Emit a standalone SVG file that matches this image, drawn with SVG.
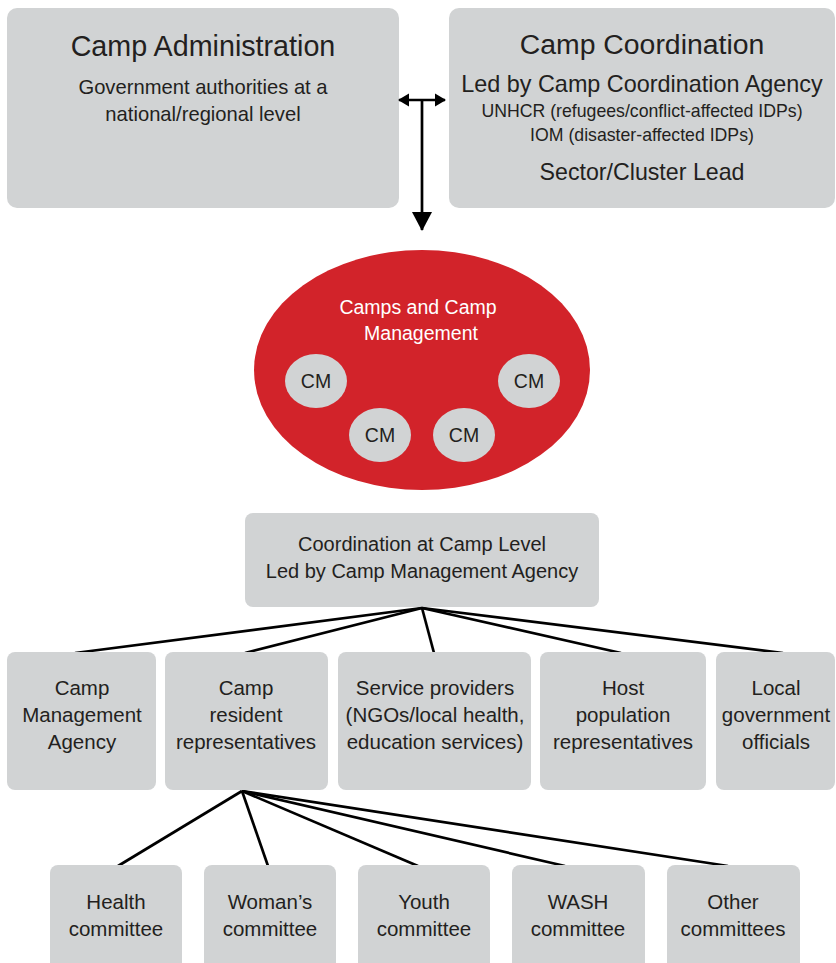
<svg xmlns="http://www.w3.org/2000/svg" width="836" height="963" viewBox="0 0 836 963">
<style>
.box{fill:#d1d3d4}
.t{font-family:"Liberation Sans",Arial,sans-serif;fill:#231f20;text-anchor:middle}
.w{fill:#ffffff}
.ln{stroke:#000;stroke-width:2.7;fill:none}
</style>
<defs>
<marker id="ah" markerWidth="12" markerHeight="14" refX="10" refY="7" orient="auto-start-reverse" markerUnits="userSpaceOnUse">
<path d="M0,0.5 L11,7 L0,13.5 z" fill="#000"/>
</marker>
<marker id="ahBig" markerWidth="20" markerHeight="22" refX="18" refY="10.5" orient="auto" markerUnits="userSpaceOnUse">
<path d="M0,0.5 L19,10.5 L0,20.5 z" fill="#000"/>
</marker>
</defs>
<rect width="836" height="963" fill="#fff"/>

<g id="camp-administration">
<rect class="box" x="7" y="8" width="392" height="200" rx="10"/>
<text class="t" x="203" y="56" font-size="28.7">Camp Administration</text>
<text class="t" x="203" y="94" font-size="20.2">Government authorities at a</text>
<text class="t" x="203" y="121" font-size="20.2">national/regional level</text>
</g>

<g id="camp-coordination">
<rect class="box" x="449" y="8" width="386" height="200" rx="10"/>
<text class="t" x="642" y="54" font-size="28.4">Camp Coordination</text>
<text class="t" x="642" y="92" font-size="23.4">Led by Camp Coordination Agency</text>
<text class="t" x="642" y="117" font-size="17.7">UNHCR (refugees/conflict-affected IDPs)</text>
<text class="t" x="642" y="141" font-size="17.7">IOM (disaster-affected IDPs)</text>
<text class="t" x="642" y="180" font-size="23.2">Sector/Cluster Lead</text>
</g>

<g id="camps">
<ellipse cx="422" cy="370" rx="168" ry="120" fill="#d2232a"/>
<text class="t w" x="418" y="314" font-size="19.5">Camps and Camp</text>
<text class="t w" x="421" y="340" font-size="19.5">Management</text>
</g>
<g id="cm1"><ellipse class="box" cx="316" cy="381" rx="31" ry="27"/><text class="t" x="316" y="388" font-size="19.5">CM</text></g>
<g id="cm2"><ellipse class="box" cx="380" cy="435" rx="31" ry="27"/><text class="t" x="380" y="442" font-size="19.5">CM</text></g>
<g id="cm3"><ellipse class="box" cx="464" cy="435" rx="31" ry="27"/><text class="t" x="464" y="442" font-size="19.5">CM</text></g>
<g id="cm4"><ellipse class="box" cx="529" cy="381" rx="31" ry="27"/><text class="t" x="529" y="388" font-size="19.5">CM</text></g>

<g id="coordination-camp-level">
<rect class="box" x="245" y="513" width="354" height="94" rx="8"/>
<text class="t" x="422" y="551" font-size="20">Coordination at Camp Level</text>
<text class="t" x="422" y="578" font-size="20">Led by Camp Management Agency</text>
</g>

<g id="connectors">
<line class="ln" x1="399" y1="100" x2="445" y2="100" marker-start="url(#ah)" marker-end="url(#ah)"/>
<line class="ln" x1="422" y1="100" x2="422" y2="230" marker-end="url(#ahBig)"/>
<line class="ln" x1="422" y1="608" x2="75" y2="653"/>
<line class="ln" x1="422" y1="608" x2="245" y2="653"/>
<line class="ln" x1="422" y1="608" x2="434" y2="653"/>
<line class="ln" x1="422" y1="608" x2="621" y2="653"/>
<line class="ln" x1="422" y1="608" x2="783" y2="653"/>
<line class="ln" x1="242" y1="791" x2="118" y2="866"/>
<line class="ln" x1="242" y1="791" x2="268" y2="866"/>
<line class="ln" x1="242" y1="791" x2="418" y2="866"/>
<line class="ln" x1="242" y1="791" x2="565" y2="866"/>
<line class="ln" x1="242" y1="791" x2="728" y2="866"/>
</g>

<g id="camp-management-agency">
<rect class="box" x="7" y="652" width="149" height="138" rx="8"/>
<text class="t" x="82" y="695" font-size="20.5">Camp</text>
<text class="t" x="82" y="722" font-size="20.5">Management</text>
<text class="t" x="82" y="749" font-size="20.5">Agency</text>
</g>
<g id="camp-resident-representatives">
<rect class="box" x="165" y="652" width="163" height="138" rx="8"/>
<text class="t" x="246" y="695" font-size="20.5">Camp</text>
<text class="t" x="246" y="722" font-size="20.5">resident</text>
<text class="t" x="246" y="749" font-size="20.5">representatives</text>
</g>
<g id="service-providers">
<rect class="box" x="338" y="652" width="193" height="138" rx="8"/>
<text class="t" x="435" y="695" font-size="20.5">Service providers</text>
<text class="t" x="435" y="722" font-size="20.5">(NGOs/local health,</text>
<text class="t" x="435" y="749" font-size="20.5">education services)</text>
</g>
<g id="host-population">
<rect class="box" x="540" y="652" width="166" height="138" rx="8"/>
<text class="t" x="623" y="695" font-size="20.5">Host</text>
<text class="t" x="623" y="722" font-size="20.5">population</text>
<text class="t" x="623" y="749" font-size="20.5">representatives</text>
</g>
<g id="local-government">
<rect class="box" x="716" y="652" width="119" height="138" rx="8"/>
<text class="t" x="776" y="695" font-size="20.5">Local</text>
<text class="t" x="776" y="722" font-size="20.5">government</text>
<text class="t" x="776" y="749" font-size="20.5">officials</text>
</g>

<g id="health-committee">
<rect class="box" x="50" y="865" width="132" height="110" rx="8"/>
<text class="t" x="116" y="909" font-size="20.5">Health</text>
<text class="t" x="116" y="936" font-size="20.5">committee</text>
</g>
<g id="womans-committee">
<rect class="box" x="204" y="865" width="132" height="110" rx="8"/>
<text class="t" x="270" y="909" font-size="20.5">Woman’s</text>
<text class="t" x="270" y="936" font-size="20.5">committee</text>
</g>
<g id="youth-committee">
<rect class="box" x="358" y="865" width="132" height="110" rx="8"/>
<text class="t" x="424" y="909" font-size="20.5">Youth</text>
<text class="t" x="424" y="936" font-size="20.5">committee</text>
</g>
<g id="wash-committee">
<rect class="box" x="512" y="865" width="133" height="110" rx="8"/>
<text class="t" x="578" y="909" font-size="20.5">WASH</text>
<text class="t" x="578" y="936" font-size="20.5">committee</text>
</g>
<g id="other-committees">
<rect class="box" x="667" y="865" width="133" height="110" rx="8"/>
<text class="t" x="733" y="909" font-size="20.5">Other</text>
<text class="t" x="733" y="936" font-size="20.5">committees</text>
</g>
</svg>
